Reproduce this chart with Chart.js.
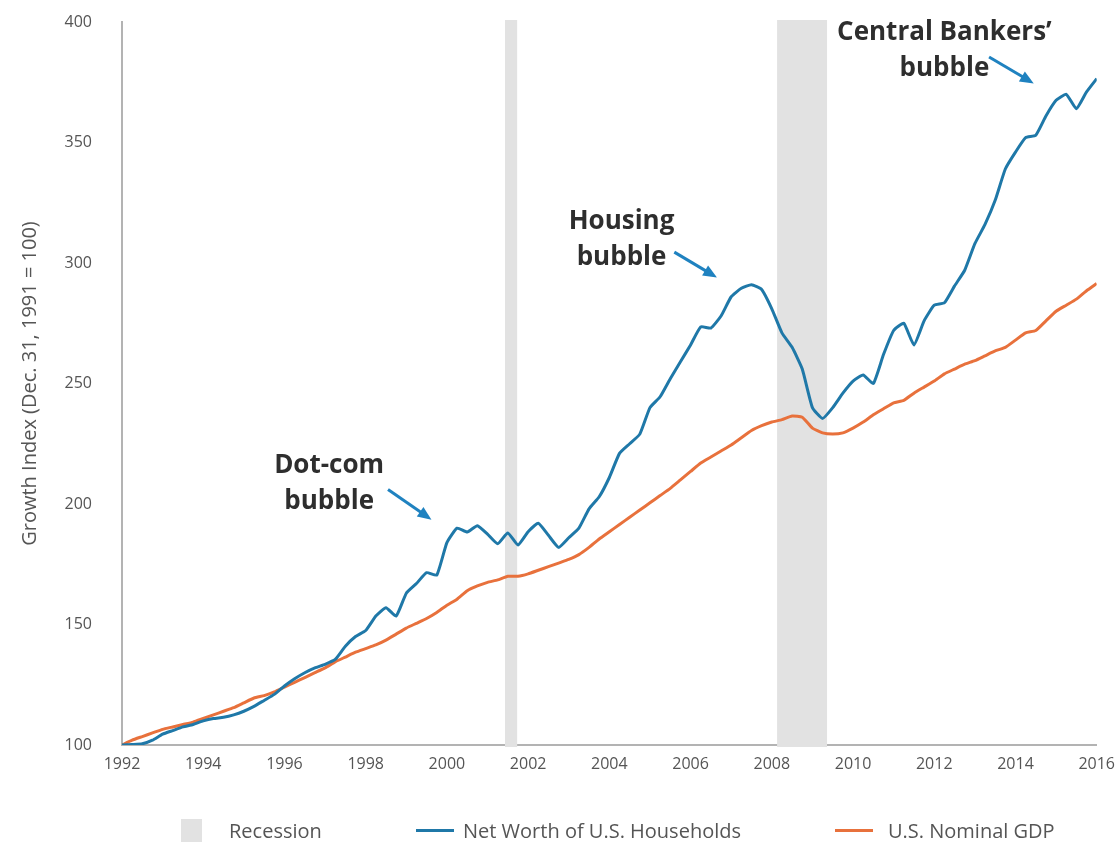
<!DOCTYPE html>
<html>
<head>
<meta charset="utf-8">
<script src="https://cdn.jsdelivr.net/npm/chart.js@4.4.1/dist/chart.umd.min.js"></script>
<style>
  html, body { margin: 0; padding: 0; background: #fff; }
  #wrap { position: relative; width: 1117px; height: 846px; }
  #legend { position: absolute; top: 817px; left: 0; width: 1117px; height: 26px;
            font-family: "Open Sans", sans-serif; font-size: 20px; color: #555; }
  #legend .item { position: absolute; top: 0; display: flex; align-items: center; height: 26px; }
  #legend .box { width: 21px; height: 23px; background: #e2e2e2; margin-right: 27px; }
  #legend .line { width: 38px; height: 3px; }
</style>
</head>
<body>
<div id="wrap">
  <canvas id="myChart" width="1117" height="846"></canvas>
  <div id="legend">
    <div class="item" style="left:181px"><span class="box"></span>Recession</div>
    <div class="item" style="left:416px"><span class="line" style="background:#1f78a8;margin-right:9px"></span>Net Worth of U.S. Households</div>
    <div class="item" style="left:835px"><span class="line" style="background:#e8713c;margin-right:15px"></span>U.S. Nominal GDP</div>
  </div>
</div>
<script>
// quarterly, starting Dec 31 1991 = 100
const startYear = 1992;

const netWorth = [
  100, 100.2, 100.5, 102, 104.5, 106, 107.5, 108.5,
  110, 111, 111.5, 112.5, 114, 116, 118.5, 121,
  124.5, 127.5, 130, 132, 133.5, 135.5, 141, 145,
  147.5, 153.5, 157, 153.5, 163, 167, 171.5, 170.5,
  184, 190, 188.4, 191, 187.5, 183.5, 188, 183,
  188.5, 192, 187, 182, 186, 190, 198, 203,
  211, 221, 225, 229, 240, 244.5, 252, 259,
  266, 273.5, 273, 278, 286, 289.5, 291, 289,
  281, 271, 265, 256, 240, 235.5, 240, 246,
  251, 253.5, 250, 262, 272, 275, 266, 276,
  282.5, 283.5, 290.5, 297, 308, 316, 326, 339,
  346, 352, 353, 361, 367.5, 370, 364, 371,
  376.5,
];

const nominalGdp = [
  100, 102, 103.5, 105, 106.5, 107.5, 108.5, 109.5,
  111, 112.5, 114, 115.5, 117.5, 119.5, 120.5, 122,
  124, 126, 128, 130, 132, 134.5, 136.5, 138.5,
  140, 141.5, 143.5, 146, 148.5, 150.5, 152.5, 155,
  158, 160.5, 164, 166, 167.5, 168.5, 170, 170,
  171, 172.5, 174, 175.5, 177, 179, 182, 185.5,
  188.5, 191.5, 194.5, 197.5, 200.5, 203.5, 206.5, 210,
  213.5, 217, 219.5, 222, 224.5, 227.5, 230.5, 232.5,
  234, 235, 236.5, 236, 231.5, 229.5, 229, 229.5,
  231.5, 234, 237, 239.5, 242, 243, 246, 248.5,
  251, 254, 256, 258, 259.5, 261.5, 263.5, 265,
  268, 271, 272, 276, 280, 282.5, 285, 288.5,
  291.5,
];

const yearTicks = [1992, 1994, 1996, 1998, 2000, 2002, 2004, 2006, 2008, 2010, 2012, 2014, 2016];
const indexTicks = [100, 150, 200, 250, 300, 350, 400];

const recessions = [
  [2001.43, 2001.73],
  [2008.13, 2009.36],
];

const notes = [
  { text: ["Dot-com", "bubble"], at: [1997.1, 216], from: [1998.55, 206], to: [1999.62, 193.5] },
  { text: ["Housing", "bubble"], at: [2004.3, 317], from: [2005.6, 304.5], to: [2006.65, 294] },
  { text: ["Central Bankers\u2019", "bubble"], at: [2012.25, 395.5], from: [2013.35, 385.5], to: [2014.45, 374.5] },
];

const toPoints = (arr) => arr.map((v, i) => ({ x: startYear + i / 4, y: v }));

const recessionBands = {
  id: "recessionBands",
  beforeDatasetsDraw(chart) {
    const { ctx, chartArea, scales } = chart;
    ctx.save();
    ctx.fillStyle = "#e2e2e2";
    recessions.forEach(([a, b]) => {
      const x1 = scales.x.getPixelForValue(a);
      const x2 = scales.x.getPixelForValue(b);
      ctx.fillRect(x1, chartArea.top - 2, x2 - x1, chartArea.bottom - chartArea.top + 4);
    });
    ctx.restore();
  },
};

const bubbleNotes = {
  id: "bubbleNotes",
  afterDatasetsDraw(chart) {
    const { ctx, scales } = chart;
    ctx.save();
    ctx.font = "bold 26px 'Open Sans', sans-serif";
    ctx.textAlign = "center";
    ctx.textBaseline = "middle";
    notes.forEach((n) => {
      const x = scales.x.getPixelForValue(n.at[0]);
      const y = scales.y.getPixelForValue(n.at[1]);
      ctx.fillStyle = "#2e2e2e";
      n.text.forEach((t, i) => ctx.fillText(t, x, y + i * 36));

      const x1 = scales.x.getPixelForValue(n.from[0]);
      const y1 = scales.y.getPixelForValue(n.from[1]);
      const x2 = scales.x.getPixelForValue(n.to[0]);
      const y2 = scales.y.getPixelForValue(n.to[1]);
      const ang = Math.atan2(y2 - y1, x2 - x1);
      const head = 15;
      ctx.strokeStyle = "#1f82c0";
      ctx.fillStyle = "#1f82c0";
      ctx.lineWidth = 3;
      ctx.beginPath();
      ctx.moveTo(x1, y1);
      ctx.lineTo(x2 - Math.cos(ang) * head * 0.8, y2 - Math.sin(ang) * head * 0.8);
      ctx.stroke();
      ctx.beginPath();
      ctx.moveTo(x2, y2);
      ctx.lineTo(x2 - head * Math.cos(ang - 0.4), y2 - head * Math.sin(ang - 0.4));
      ctx.lineTo(x2 - head * Math.cos(ang + 0.4), y2 - head * Math.sin(ang + 0.4));
      ctx.closePath();
      ctx.fill();
    });
    ctx.restore();
  },
};

const ctx = document.getElementById("myChart").getContext("2d");
const myChart = new Chart(ctx, {
  type: "line",
  data: {
    datasets: [
      {
        label: "Net Worth of U.S. Households",
        data: toPoints(netWorth),
        borderColor: "#1f78a8",
        borderWidth: 3,
        pointRadius: 0,
        tension: 0.15,
      },
      {
        label: "U.S. Nominal GDP",
        data: toPoints(nominalGdp),
        borderColor: "#e8713c",
        borderWidth: 3,
        pointRadius: 0,
        tension: 0.15,
      },
    ],
  },
  options: {
    responsive: false,
    animation: false,
    layout: {
      padding: { top: 22, right: 19, bottom: 0, left: 0 },
    },
    scales: {
      x: {
        type: "linear",
        min: 1992,
        max: 2016,
        afterFit: (s) => { s.height = 101; },
        afterBuildTicks: (s) => { s.ticks = yearTicks.map((v) => ({ value: v })); },
        grid: { display: false },
        border: { display: true, color: "#b3b3b3", width: 2 },
        ticks: {
          padding: 2,
          color: "#555",
          font: { family: "'Open Sans', sans-serif", size: 16 },
          maxRotation: 0,
          callback: (v) => String(v),
        },
      },
      y: {
        min: 100,
        max: 400,
        afterFit: (s) => {
          s.width = 122;
          s.paddingTop = 0;
          s.paddingBottom = 0;
        },
        afterBuildTicks: (s) => { s.ticks = indexTicks.map((v) => ({ value: v })); },
        grid: { display: false },
        border: { display: true, color: "#b3b3b3", width: 2 },
        ticks: {
          padding: 22,
          color: "#555",
          font: { family: "'Open Sans', sans-serif", size: 16 },
        },
        title: {
          display: true,
          text: "Growth Index (Dec. 31, 1991 = 100)",
          color: "#555",
          font: { family: "'Open Sans', sans-serif", size: 20 },
          padding: { top: 18, bottom: 0 },
        },
      },
    },
    plugins: {
      legend: { display: false },
      tooltip: { enabled: false },
    },
  },
  plugins: [recessionBands, bubbleNotes],
});
</script>
</body>
</html>
